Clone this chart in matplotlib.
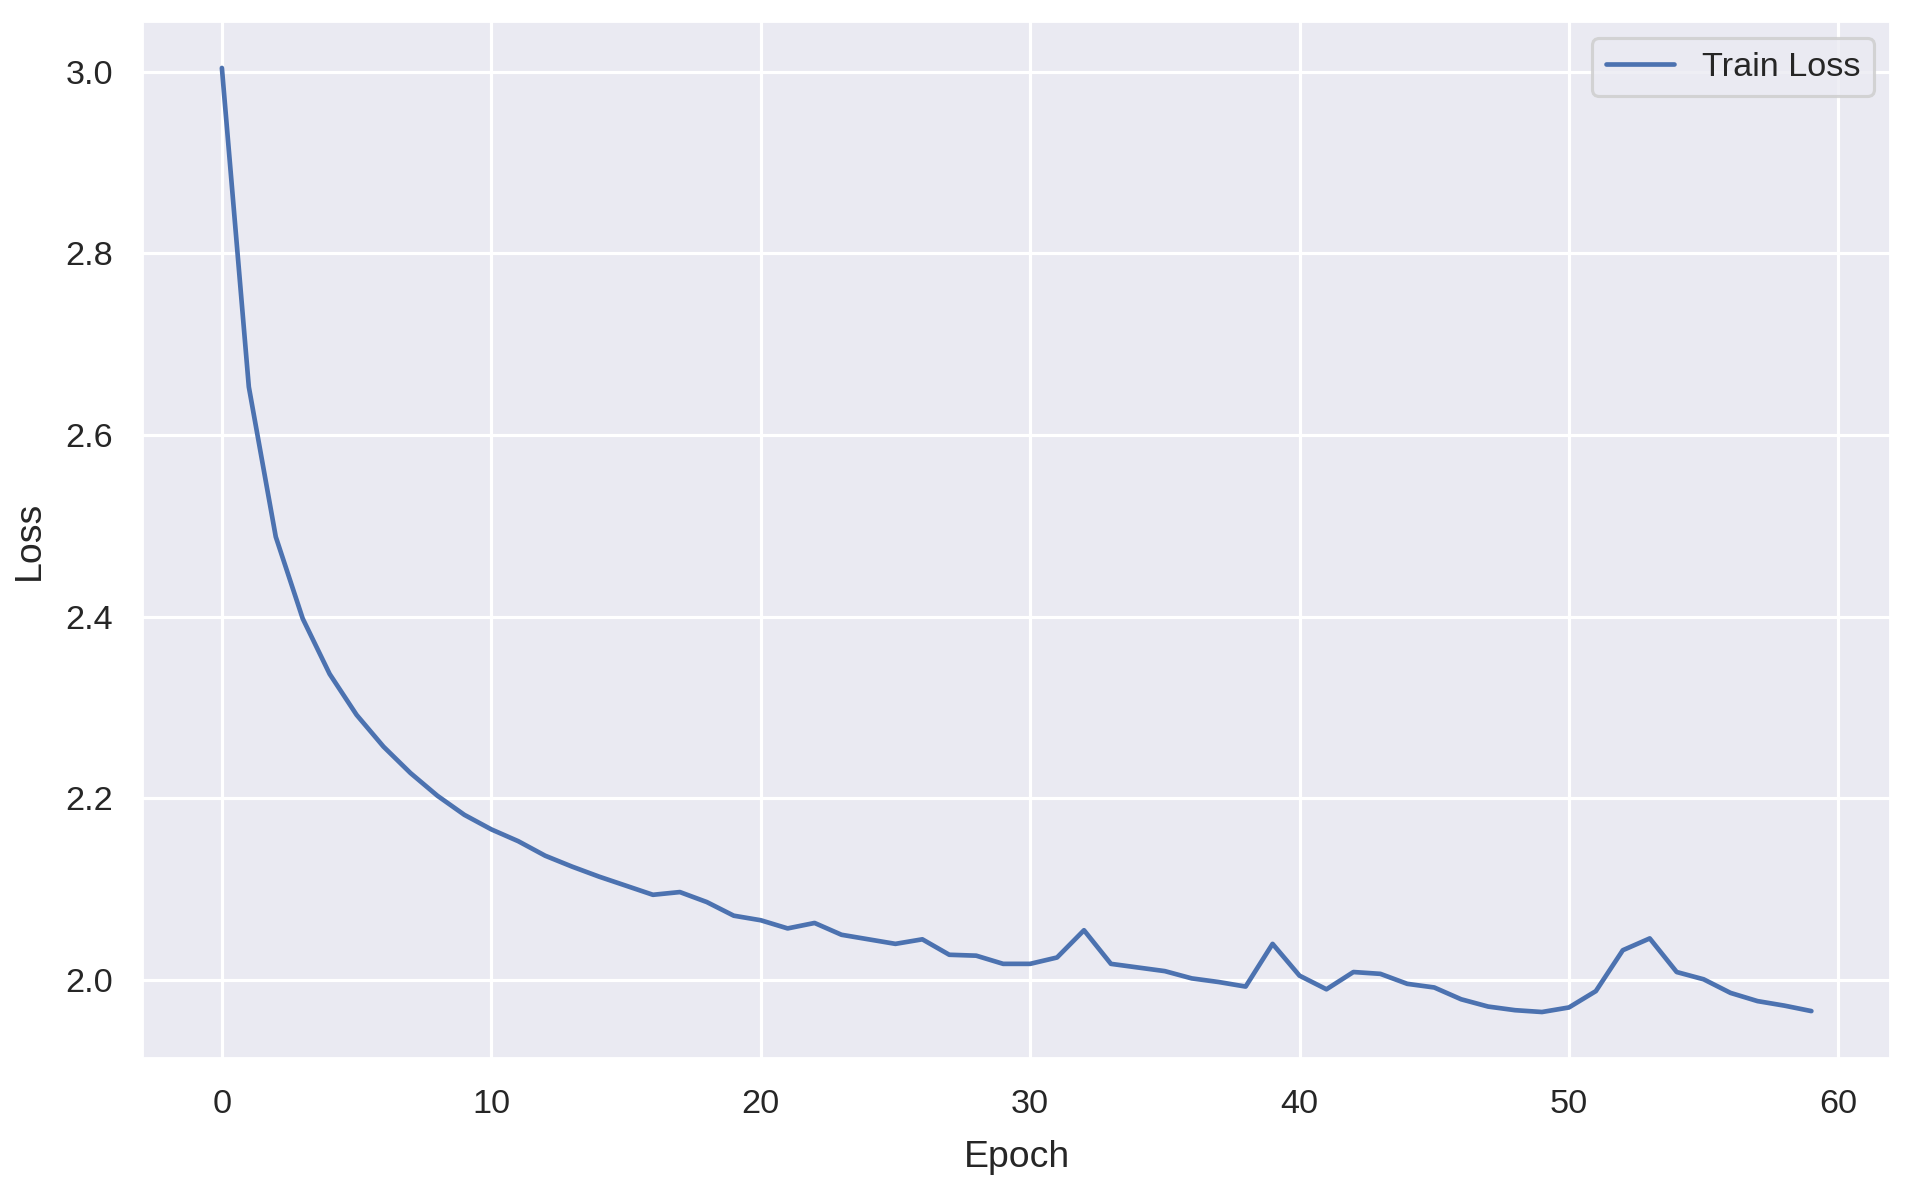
import matplotlib
matplotlib.use("Agg")
import matplotlib.pyplot as plt
import seaborn as sns

sns.set_theme()
plt.rcParams['font.family'] = ['Liberation Sans', 'DejaVu Sans']

# train loss per epoch
epochs = list(range(60))
train_loss = [
    3.004, 2.653, 2.488, 2.398, 2.337, 2.292, 2.257, 2.228, 2.203, 2.182,
    2.166, 2.153, 2.137, 2.125, 2.114, 2.104, 2.094, 2.097, 2.086, 2.071,
    2.066, 2.057, 2.063, 2.050, 2.045, 2.040, 2.045, 2.028, 2.027, 2.018,
    2.018, 2.025, 2.055, 2.018, 2.014, 2.010, 2.002, 1.998, 1.993, 2.040,
    2.005, 1.990, 2.009, 2.007, 1.996, 1.992, 1.979, 1.971, 1.967, 1.965,
    1.970, 1.988, 2.033, 2.046, 2.009, 2.001, 1.986, 1.977, 1.972, 1.966,
]

dpi = 224
fig, ax = plt.subplots(figsize=(1909 / dpi, 1192 / dpi), dpi=dpi)
fig.subplots_adjust(left=0.0746, right=0.9905, top=0.9826, bottom=0.1114)

ax.plot(epochs, train_loss, label="Train Loss")

ax.set_xlabel("Epoch", labelpad=6.5)
ax.set_ylabel("Loss", labelpad=6)
ax.legend(loc="upper right")

plt.savefig("out.png", dpi=dpi)
